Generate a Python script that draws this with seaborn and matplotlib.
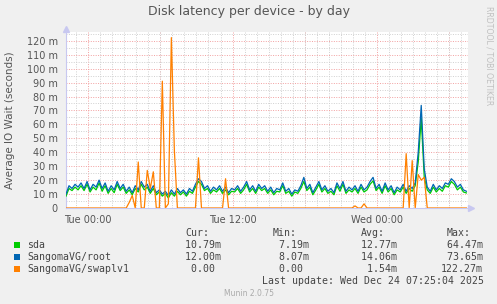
import numpy as np
import pandas as pd
import matplotlib
matplotlib.use("Agg")
import matplotlib.pyplot as plt
import matplotlib.dates as mdates
from matplotlib.patches import Rectangle
import seaborn as sns

# ---------------- data ----------------
series_names = ["sda", "SangomaVG/root", "SangomaVG/swaplv1"]
series_colors = ["#00CC00", "#0066B3", "#FF8000"]

root_ms = [10, 16, 14, 17, 15, 18, 14, 19, 13, 17, 15, 20, 14, 18, 12, 16, 13, 19, 14, 17,
           12, 15, 11, 16, 13, 19, 15, 17, 12, 16, 11, 13, 10, 12, 9, 13, 10, 14, 11, 13,
           10, 14, 12, 17, 21, 19, 14, 16, 12, 15, 13, 16, 12, 15, 11, 14, 13, 16, 12, 15,
           19, 13, 16, 12, 17, 14, 16, 12, 15, 11, 14, 13, 18, 12, 14, 10, 13, 12, 16, 22,
           14, 17, 11, 15, 19, 13, 16, 12, 14, 11, 18, 14, 19, 12, 15, 13, 16, 12, 17, 13,
           15, 19, 22, 14, 17, 12, 18, 13, 16, 11, 15, 13, 17, 12, 16, 14, 18, 40, 73.65, 28,
           15, 12, 17, 13, 16, 14, 18, 17, 21, 19, 15, 17, 13, 12.00]

sda_ms = [8.5, 14, 12.5, 15, 13, 16, 12.5, 17, 11.5, 15, 13, 18, 12, 16, 10.5, 14, 11, 17, 12.5, 15,
          10.5, 13, 9.5, 14, 11.5, 17, 13, 15, 10.5, 14, 9.5, 11.5, 8.5, 10.5, 7.19, 11, 8.5, 12, 9.5, 11.5,
          8.5, 12, 10.5, 15, 19, 17, 12.5, 14, 10.5, 13, 11.5, 14, 10.5, 13, 9.5, 12, 11.5, 14, 10.5, 13,
          17, 11.5, 14, 10.5, 15, 12.5, 14, 10.5, 13, 9.5, 12, 11.5, 16, 10.5, 12, 8.5, 11.5, 10.5, 14, 19,
          12.5, 15, 9.5, 13, 17, 11.5, 14, 10.5, 12, 9.5, 16, 12, 17, 10.5, 13, 11.5, 14, 10.5, 15, 11.5,
          13, 17, 19.5, 12.5, 15, 10.5, 16, 11.5, 14, 9.5, 13, 11.5, 15, 10.5, 14, 12, 16, 33, 64.47, 22,
          13, 10.5, 15, 11.5, 14, 12, 16, 15, 19, 17, 13, 15, 11.5, 10.79]

swap_ms = [0, 0, 0, 0, 0, 0, 0, 0, 0, 0, 0, 0, 0, 0, 0, 0, 0, 0, 0, 0,
           0, 4, 9, 0, 33, 0, 0, 27, 14, 26, 0, 0, 91, 0, 3, 122.27, 41, 0, 0, 0,
           0, 0, 0, 0, 36, 0, 0, 0, 0, 0, 0, 0, 0, 21, 0, 0, 0, 0, 0, 0,
           0, 0, 0, 0, 0, 0, 0, 0, 0, 0, 0, 0, 0, 0, 0, 0, 0, 0, 0, 0,
           0, 0, 0, 0, 0, 0, 0, 0, 0, 0, 0, 0, 0, 0, 0, 0, 1.5, 0, 0, 3,
           0, 0, 0, 0, 0, 0, 0, 0, 0, 0, 0, 0, 0, 39, 0, 34, 0, 24, 20, 22,
           0, 0, 0, 0, 0, 0, 0, 0, 0, 0, 0, 0, 0, 0.00]

legend_cur = ["10.79m", "12.00m", "0.00"]
legend_min = ["7.19m", "8.07m", "0.00"]
legend_avg = ["12.77m", "14.06m", "1.54m"]
legend_max = ["64.47m", "73.65m", "122.27m"]

y_ticks = [0, 10, 20, 30, 40, 50, 60, 70, 80, 90, 100, 110, 120]
y_tick_labels = ["0"] + [f"{v} m" for v in y_ticks[1:]]
x_tick_times = ["2025-12-23 00:00", "2025-12-23 12:00", "2025-12-24 00:00"]
x_tick_labels = ["Tue 00:00", "Tue 12:00", "Wed 00:00"]

times = pd.date_range("2025-12-22 22:10", periods=len(root_ms), freq="15min")
df = pd.concat([
    pd.DataFrame({"time": times, "value": sda_ms, "device": "sda"}),
    pd.DataFrame({"time": times, "value": root_ms, "device": "SangomaVG/root"}),
    pd.DataFrame({"time": times, "value": swap_ms, "device": "SangomaVG/swaplv1"}),
], ignore_index=True)

# ---------------- figure ----------------
W, H = 497, 304
fig = plt.figure(figsize=(W / 100, H / 100), dpi=100, facecolor="#F0F0F0")
plt.rcParams['font.family'] = ['DejaVu Sans']

def fx(x):
    return x / W

def fy(y):
    return 1 - y / H

ax_l, ax_r, ax_t, ax_b = 66, 468, 32, 208
ax = fig.add_axes([fx(ax_l), fy(ax_b), (ax_r - ax_l) / W, (ax_b - ax_t) / H])
ax.set_facecolor("white")

sns.lineplot(data=df, x="time", y="value", hue="device", hue_order=series_names,
             palette=dict(zip(series_names, series_colors)), estimator=None,
             linewidth=0.9, legend=False, ax=ax, zorder=3)

ax.set_ylim(0, 126.3)
ax.set_xlim(pd.Timestamp("2025-12-22 22:10"), pd.Timestamp("2025-12-24 07:33"))

# grid
ax.set_axisbelow(True)
ax.xaxis.set_minor_locator(mdates.HourLocator())
ax.yaxis.set_major_locator(matplotlib.ticker.FixedLocator(y_ticks))
ax.yaxis.set_minor_locator(matplotlib.ticker.MultipleLocator(5))
ax.grid(which="minor", color="#D0D0D0", linestyle=(0, (1, 1.5)), linewidth=0.7)
ax.grid(which="major", color="#F2A0A0", linestyle=(0, (1, 1.5)), linewidth=0.7)

# tick labels
ax.set_yticklabels(y_tick_labels)
ax.set_xticks([mdates.date2num(pd.Timestamp(t)) for t in x_tick_times], minor=False)
ax.set_xticklabels(x_tick_labels)
for t in ["2025-12-23 06:00", "2025-12-23 18:00", "2025-12-24 06:00"]:
    ax.axvline(pd.Timestamp(t), color="#F2A0A0", linestyle=(0, (1, 1.5)), linewidth=0.7, zorder=0.5)

ax.tick_params(axis="both", which="both", length=0, labelsize=7, colors="#555555")
ax.tick_params(axis="y", pad=6)
ax.tick_params(axis="x", pad=5)
ax.set_xlabel("")
ax.set_ylabel("")

for s in ["top", "right"]:
    ax.spines[s].set_visible(False)
ax.spines["left"].set_color("#C8C8F0")
ax.spines["bottom"].set_color("#C8C8F0")
ax.spines["left"].set_linewidth(0.8)
ax.spines["bottom"].set_linewidth(0.8)
ax.plot([0], [1.015], marker="^", markersize=4, color="#C8C8F0", transform=ax.transAxes, clip_on=False)
ax.plot([1.008], [0], marker=">", markersize=4, color="#C8C8F0", transform=ax.transAxes, clip_on=False)

# title & labels
fig.text(0.5, fy(12), "Disk latency per device - by day", ha="center", va="center",
         fontsize=9, color="#555555")
fig.text(fx(10), fy(120), "Average IO Wait (seconds)", rotation=90, ha="center", va="center",
         fontsize=7.5, color="#555555")
fig.text(fx(489), fy(56), "RRDTOOL / TOBI OETIKER", rotation=270, ha="center", va="center",
         fontsize=5.6, color="#C0C0C0")

# legend
mono = "DejaVu Sans Mono"
fs = 7.1
cw = 5.94
txt_color = "#444444"
col_x = [179, 266.8, 354.7, 440.7]
hdr_y = 233.3
row_y = [244.7, 256.7, 269]
for x, h in zip(col_x, ["Cur:", "Min:", "Avg:", "Max:"]):
    fig.text(fx(x + cw), fy(hdr_y), h, family=mono, fontsize=fs, color=txt_color, va="center", ha="left")

def fmt(v):
    if v.endswith("m"):
        return v[:-1].rjust(6) + "m"
    return v.rjust(6) + " "

for r, (name, color) in enumerate(zip(series_names, series_colors)):
    y = row_y[r]
    fig.patches.append(Rectangle((fx(14), fy(y + 3)), 5.5 / W, 6 / H, transform=fig.transFigure,
                                 facecolor=color, edgecolor="none"))
    fig.text(fx(27), fy(y), name, family=mono, fontsize=fs, color=txt_color, va="center", ha="left")
    for x, vals in zip(col_x, [legend_cur, legend_min, legend_avg, legend_max]):
        fig.text(fx(x), fy(y), fmt(vals[r]), family=mono, fontsize=fs, color=txt_color,
                 va="center", ha="left")

fig.text(fx(261.7), fy(280.7), "Last update: Wed Dec 24 07:25:04 2025", family=mono, fontsize=fs,
         color=txt_color, va="center", ha="left")
fig.text(fx(248.5), fy(293), "Munin 2.0.75", fontsize=5.5, color="#AAAAAA", ha="center", va="center")

fig.savefig("out.png", dpi=100, facecolor=fig.get_facecolor())
